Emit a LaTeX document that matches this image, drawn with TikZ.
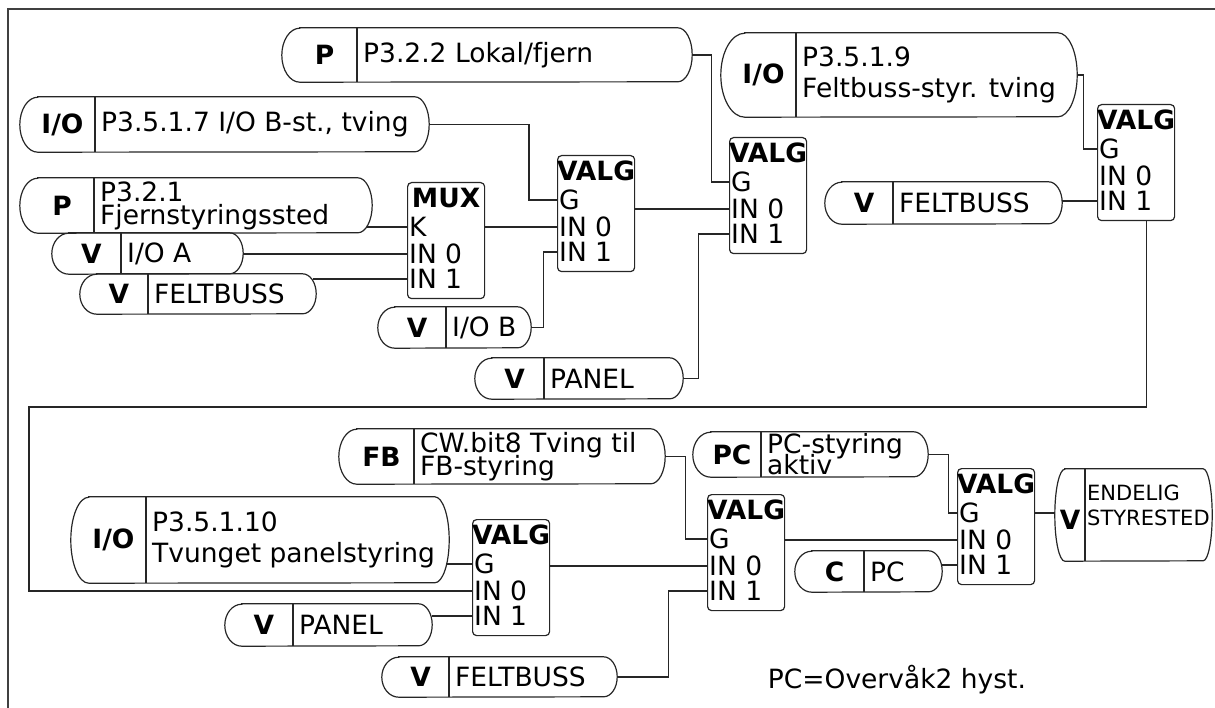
\documentclass[tikz,border=0pt]{standalone}
\usepackage{fontspec}
\setmainfont{DejaVu Sans}
\usetikzlibrary{calc,fit}

\begin{document}
\begin{tikzpicture}[
  x=1pt,y=-1pt,
  font=\fontsize{26.5}{31}\selectfont,
  wire/.style={draw=black!85,line width=1.2pt},
  pill/.style={draw=black!85,line width=1.2pt},
  blok/.style={draw=black!85,line width=1.2pt,rounded corners=4pt,
    minimum width=77pt,minimum height=116pt,inner sep=0pt,anchor=north west},
  sym/.style={font=\fontsize{26.5}{31}\selectfont\bfseries,inner sep=0pt},
  txt/.style={align=left,anchor=west,inner xsep=6pt,inner ysep=0pt},
  port/.style={anchor=west,inner xsep=2pt,inner ysep=0pt,text height=19pt,text depth=0pt},
  ttl/.style={font=\fontsize{26.5}{31}\selectfont\bfseries,inner sep=0pt,
    text height=19pt,text depth=0pt},
  ramme/.style={draw=black!75,line width=1.6pt}]
  \useasboundingbox (0,0) rectangle (1215,708);
  \draw[ramme] (8,708) -- (8,9) -- (1215,9);

  % signal sources
  \foreach \nm/\xa/\ya/\xb/\yb/\xd/\r/\tg/\txt in {
    lokal/282/28/692/82/357/18/P/{P3.2.2 Lokal/fjern},
    iobtving/20/97/429/152/95/18/{I/O}/{P3.5.1.7 I/O B-st., tving},
    fjern/20/178/372/233/94/18/P/{P3.2.1\\[-8pt]Fjernstyringssted},
    ioa/52/233/243/274/121/17/V/{I/O A},
    fbusa/80/274/316/314/148/17/V/FELTBUSS,
    iob/378/307/531/348/446/17/V/{I/O B},
    panela/475/358/683/399/544/17/V/PANEL,
    fbtving/721/33/1077/117/796/24/{I/O}/{P3.5.1.9\\Feltbuss-styr. tving},
    fbusb/825/182/1062/224/893/17/V/FELTBUSS,
    fbbit/339/429/665/484/414/18/FB/{CW.bit8 Tving til\\[-8pt]FB-styring},
    paneltving/71/497/449/583/146/18/{I/O}/{P3.5.1.10\\Tvunget panelstyring},
    panelb/225/604/432/646/293/17/V/PANEL,
    fbusc/382/657/617/697/449/17/V/FELTBUSS,
    pcakt/693/432/928/477/761/18/PC/{PC-styring\\[-10pt]aktiv},
    pcc/795/551/942/592/864/17/C/PC}
  {
    \node[fit={(\xa,\ya) (\xb,\yb)},inner sep=0pt] (\nm) {};
    \draw[pill] ($(\nm.north west)+(\r,0)$) -- ($(\nm.north east)+(-0.8*\r,0)$)
      arc[start angle=-90,end angle=90,x radius=0.8*\r,y radius=(\yb-\ya)/2]
      -- ($(\nm.south west)+(\r,0)$)
      arc[start angle=90,end angle=270,x radius=\r,y radius=(\yb-\ya)/2] -- cycle;
    \draw[pill] (\xd,\ya) -- (\xd,\yb);
    \node[sym] (\nm-sym) at ({(\xa+\xd)/2+5},{(\ya+\yb)/2}) {\tg};
    \node[txt] (\nm-txt) at (\xd,{(\ya+\yb)/2}) {\txt};
  }

  % result
  \node[fit={(1055,469) (1212,561)},inner sep=0pt] (endelig) {};
  \draw[pill] ($(endelig.north west)+(10,0)$) -- ($(endelig.north east)+(-9,0)$)
    arc[start angle=-90,end angle=90,x radius=9,y radius=46]
    -- ($(endelig.south west)+(10,0)$)
    arc[start angle=90,end angle=270,x radius=10,y radius=46] -- cycle;
  \draw[pill] (1085,469) -- (1085,561);
  \node[sym] (endelig-sym) at (1070,520) {V};
  \node[txt,inner xsep=2pt,font=\fontsize{21}{25}\selectfont] (endelig-txt)
    at (1085,505) {ENDELIG\\STYRESTED};

  % selector blocks
  \foreach \nm/\x/\y/\ttl/\sel in {
    mux/407/182/MUX/K,
    valg1/557/155/VALG/G,
    valg2/729/137/VALG/G,
    valg3/1097/104/VALG/G,
    valg4/472/519/VALG/G,
    valg5/707/494/VALG/G,
    valg6/957/468/VALG/G}
  {
    \node[blok] (\nm) at (\x,\y) {};
    \node[ttl] (\nm-ttl) at ($(\nm.north)+(0,16)$) {\ttl};
    \node[port] (\nm-sel) at ($(\nm.north west)+(0,45)$) {\sel};
    \node[port] (\nm-in0) at ($(\nm.north west)+(0,72)$) {IN 0};
    \node[port] (\nm-in1) at ($(\nm.north west)+(0,97)$) {IN 1};
  }

  % upper chain
  \draw[wire] (mux-sel.west) -- ($(mux-sel.west -| fjern.east)+(-5,0)$);
  \draw[wire] (mux-in0.west) -- (mux-in0.west -| ioa.east);
  \draw[wire] (mux-in1.west) -- ($(mux-in1.west -| fbusa.east)+(-3,0)$);
  \draw[wire] (valg1-sel.west) -- ++(-28,0) |- (iobtving.east);
  \draw[wire] (valg1-in0.west) -- (valg1-in0.west -| mux.east);
  \draw[wire] (iob.east) -- ++(12,0) |- (valg1-in1.west);
  \draw[wire] (lokal.east) -- ++(19,0) |- (valg2-sel.west);
  \draw[wire] (valg2-in0.west) -- (valg2-in0.west -| valg1.east);
  \draw[wire] (panela.east) -- ++(15,0) |- (valg2-in1.west);
  \draw[wire] (fbtving.east) -- ++(6,0) |- (valg3-sel.west);
  \draw[wire] (valg3-in1.west) -- (valg3-in1.west -| fbusb.east);

  % back to the lower chain
  \coordinate (retur) at (29,407);
  \draw[wire] ([xshift=10pt]valg3.south) |- (retur) |- (valg4-in0.west);

  % lower chain
  \draw[wire] (valg4-sel.west) -- ($(valg4-sel.west -| paneltving.east)+(-3,0)$);
  \draw[wire] (valg4-in1.west) -- (valg4-in1.west -| panelb.east);
  \draw[wire] (fbbit.east) -- ++(20,0) |- (valg5-sel.west);
  \draw[wire] (valg5-in0.west) -- (valg5-in0.west -| valg4.east);
  \draw[wire] (fbusc.east) -- ++(51,0) |- (valg5-in1.west);
  \draw[wire] (pcakt.east) -- ++(20,0) |- (valg6-sel.west);
  \draw[wire] (valg6-in0.west) -- (valg6-in0.west -| valg5.east);
  \draw[wire] (valg6-in1.west) -- (valg6-in1.west -| pcc.east);
  \draw[wire] (valg6-sel.west -| valg6.east) -- (valg6-sel.west -| endelig.west);

  \node (merknad) at (897,680) {PC=Overvåk2 hyst.};
\end{tikzpicture}
\end{document}
